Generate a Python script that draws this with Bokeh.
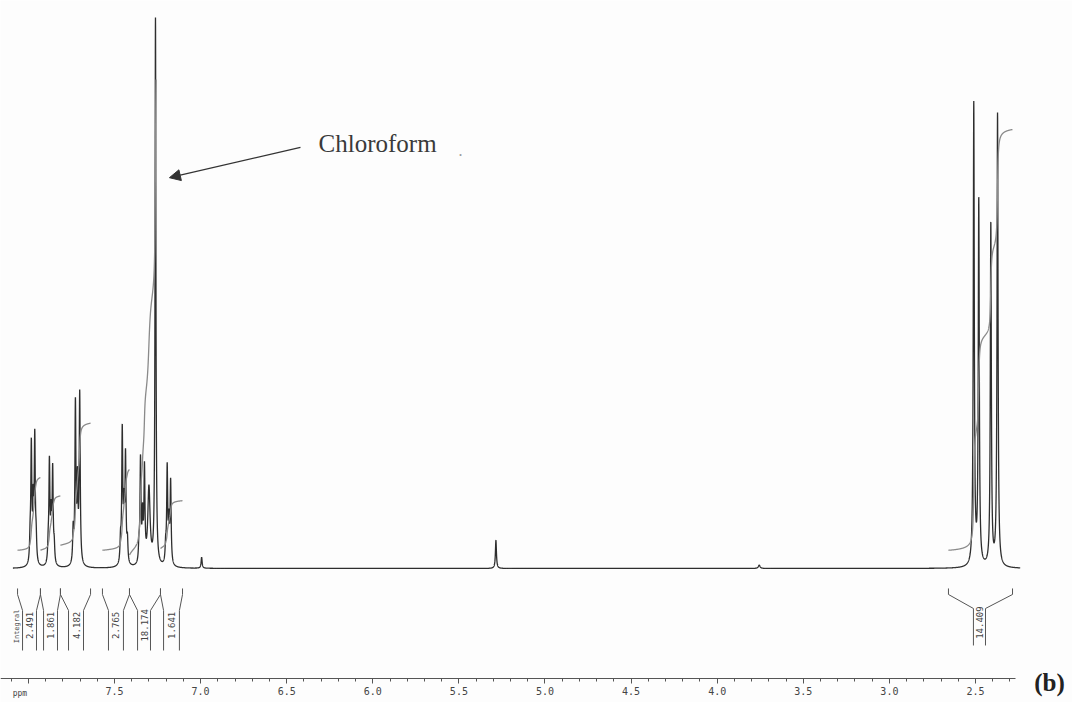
import numpy as np
from bokeh.plotting import figure
from bokeh.models import Range1d, FixedTicker, Label, Arrow, NormalHead
from bokeh.core.properties import value
from bokeh.embed import file_html
from bokeh.resources import INLINE

# ---------------- data ----------------
# peak table: chemical shift (ppm), line height (CHCl3 ~ 100), half width (ppm)
peak_ppm = [7.990, 7.983, 7.972, 7.963, 7.955,
            7.885, 7.878, 7.868, 7.859, 7.850,
            7.740, 7.727, 7.715, 7.702,
            7.465, 7.455, 7.445, 7.436, 7.425,
            7.358, 7.349, 7.337, 7.326, 7.300,
            7.262,
            7.203, 7.194, 7.184, 7.174,
            6.994, 5.285, 3.756,
            2.510, 2.481, 2.411, 2.372]
peak_height = [4.0, 21.2, 10.0, 22.6, 4.0,
               3.0, 18.2, 8.0, 16.9, 3.0,
               6.0, 28.9, 14.0, 30.8,
               4.0, 24.0, 9.0, 19.2, 4.0,
               3.0, 18.7, 8.0, 16.7, 14.0,
               99.0,
               3.0, 17.3, 7.0, 14.9,
               2.0, 5.1, 0.6,
               83.6, 66.0, 62.0, 82.0]
peak_width = [0.0035] * 23 + [0.008, 0.003] + [0.0035] * 4 + [0.0035, 0.0035, 0.006] + [0.0035] * 4

# integral regions (ppm limits of the bracket tops / bottoms) and values
int_top_left = [8.063, 7.930, 7.814, 7.570, 7.413, 7.233, 2.657]
int_top_right = [7.930, 7.814, 7.639, 7.413, 7.233, 7.105, 2.285]
int_trace_end = [7.930, 7.814, 7.639, 7.413, 7.258, 7.105, 2.285]
int_low_left = [8.034, 7.912, 7.767, 7.535, 7.366, 7.215, 2.512]
int_low_right = [7.953, 7.831, 7.680, 7.448, 7.291, 7.123, 2.442]
int_values = [2.491, 1.861, 4.182, 2.765, 18.174, 1.641, 14.409]
int_labels = ["2.491", "1.861", "4.182", "2.765", "18.174", "1.641", "14.409"]
int_start = [3.3, 3.3, 4.2, 3.3, 2.4, 3.6, 3.3]   # offset of integral trace above baseline

# axis ticks
major_ticks = [8.0, 7.5, 7.0, 6.5, 6.0, 5.5, 5.0, 4.5, 4.0, 3.5, 3.0, 2.5]
minor_ticks = [8.1, 7.9, 7.8, 7.7, 7.6, 7.4, 7.3, 7.2, 7.1, 6.9, 6.8, 6.7, 6.6,
               6.4, 6.3, 6.2, 6.1, 5.9, 5.8, 5.7, 5.6, 5.4, 5.3, 5.2, 5.1,
               4.9, 4.8, 4.7, 4.6, 4.4, 4.3, 4.2, 4.1, 3.9, 3.8, 3.7, 3.6,
               3.4, 3.3, 3.2, 3.1, 2.9, 2.8, 2.7, 2.6, 2.4, 2.3]
tick_text = {t: f"{t:.1f}" for t in major_ticks}
tick_text[8.0] = " "

# ---------------- build traces ----------------
ppm = np.arange(8.09, 2.24, -0.0004)
spec = np.zeros_like(ppm)
for x0, h, w in zip(peak_ppm, peak_height, peak_width):
    spec += h / (1.0 + ((ppm - x0) / w) ** 2)

K = 5.29  # height units per integral unit
int_xs, int_ys = [], []
for a, b, e, v, s in zip(int_top_left, int_top_right, int_trace_end, int_values, int_start):
    m = (ppm <= a) & (ppm >= b)
    c = np.cumsum(spec[m])
    c = c / c[-1]
    keep = ppm[m] >= e
    int_xs.append(ppm[m][keep])
    int_ys.append((s + c * v * K)[keep])

# bracket outlines below the spectrum
Y_TOP, Y_SH, Y_KNEE, Y_BOT = -3.62, -4.71, -7.61, -14.86
br_xs, br_ys = [], []
for i, (tl, tr, ll, lr) in enumerate(zip(int_top_left, int_top_right, int_low_left, int_low_right)):
    bot = -13.95 if i == 6 else Y_BOT
    knee = -7.25 if i == 6 else Y_KNEE
    br_xs.append([tl, tl, ll, ll]); br_ys.append([Y_TOP, Y_SH, knee, bot])
    br_xs.append([tr, tr, lr, lr]); br_ys.append([Y_TOP, Y_SH, knee, bot])

lab_x = [(l + r) / 2 for l, r in zip(int_low_left, int_low_right)]
lab_y = [-10.3] * 6 + [-9.8]

# ---------------- figure ----------------
p = figure(width=1072, height=702,
           x_range=Range1d(8.162, 1.9367), y_range=Range1d(-24.28, 102.9),
           output_backend="svg", toolbar_location=None, y_axis_location=None,
           min_border=0, min_border_left=0, min_border_right=0,
           min_border_top=0, min_border_bottom=0,
           background_fill_color="#fdfdfd", border_fill_color="#fdfdfd",
           outline_line_color=None)
p.grid.visible = False

p.line(ppm, spec, line_color="#2e2e2e", line_width=1.3)
p.multi_line(int_xs, int_ys, line_color="#8a8a8a", line_width=1.3)
p.multi_line(br_xs, br_ys, line_color="#555555", line_width=1.0)

p.text(x=lab_x, y=lab_y, text=int_labels, angle=np.pi / 2,
       text_align="center", text_baseline="middle",
       text_font=value("DejaVu Sans Mono"), text_font_size="9px", text_color="#444444")
p.text(x=[8.069], y=[-10.5], text=["Integral"], angle=np.pi / 2,
       text_align="center", text_baseline="middle",
       text_font=value("DejaVu Sans Mono"), text_font_size="7px", text_color="#444444")

ax = p.xaxis[0]
ax.fixed_location = -19.93
ax.ticker = FixedTicker(ticks=major_ticks, minor_ticks=minor_ticks)
ax.major_label_overrides = tick_text
ax.bounds = (2.268, 8.16)
ax.major_tick_in = 0
ax.major_tick_out = 5
ax.minor_tick_in = 0
ax.minor_tick_out = 3
ax.major_label_standoff = 3
ax.major_label_text_font = "DejaVu Sans Mono"
ax.major_label_text_font_size = "10px"
ax.major_label_text_color = "#444444"
ax.axis_line_color = "#555555"
ax.major_tick_line_color = "#555555"
ax.minor_tick_line_color = "#555555"

# annotations
p.add_layout(Arrow(end=NormalHead(size=11, fill_color="#333333", line_color="#333333"),
                   x_start=6.420, y_start=76.3, x_end=7.181, y_end=70.8,
                   line_color="#333333", line_width=1.3))
p.add_layout(Label(x=6.315, y=77.0, text="Chloroform", text_baseline="middle",
                   text_font="Liberation Serif", text_font_size="25px", text_color="#3a3a3a"))
p.add_layout(Label(x=5.502, y=75.7, text=".", text_baseline="middle",
                   text_font="Liberation Serif", text_font_size="16px", text_color="#999999"))
p.add_layout(Label(x=8.049, y=-22.6, text="ppm", text_baseline="middle", text_align="center",
                   text_font="DejaVu Sans Mono", text_font_size="8px", text_color="#444444"))
p.add_layout(Label(x=2.070, y=-20.65, text="(b)", text_baseline="middle", text_align="center",
                   text_font="Liberation Serif", text_font_size="25px", text_font_style="bold",
                   text_color="#222222"))

open("out.html", "w").write(file_html(p, INLINE))
